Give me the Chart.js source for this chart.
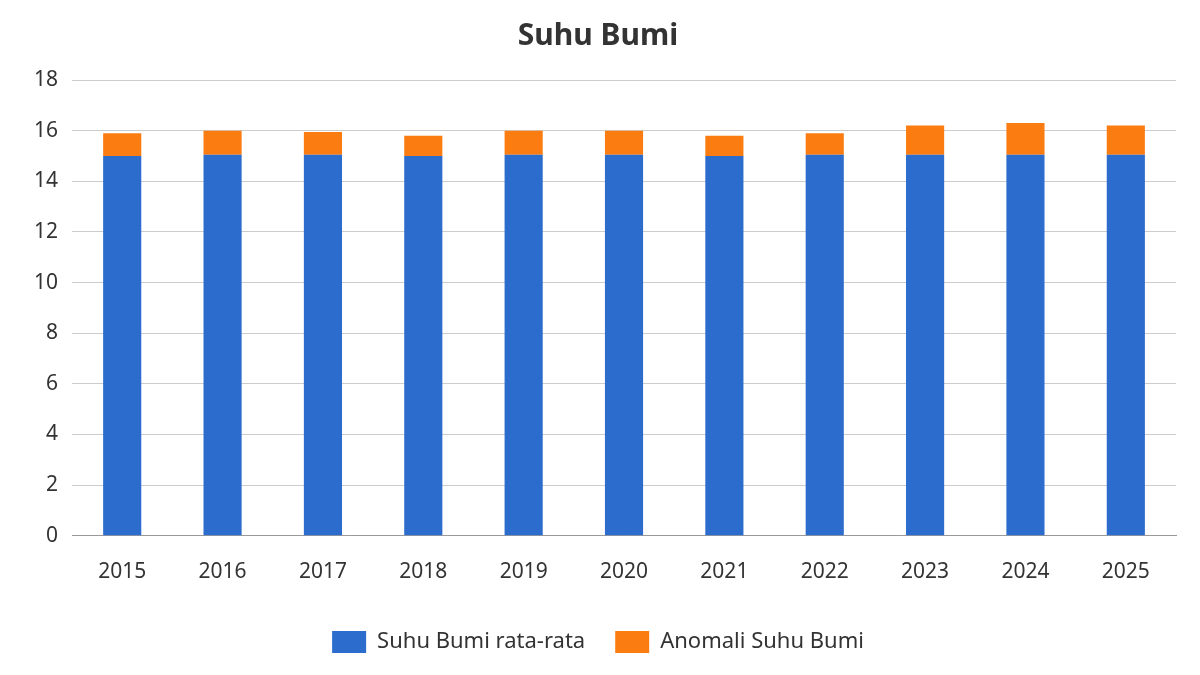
<!DOCTYPE html>
<html><head><meta charset="utf-8">
<script src="https://cdn.jsdelivr.net/npm/chart.js@4"></script>
<style>html,body{margin:0;background:#fff}#w{width:1200px;height:675px}</style>
</head><body><div id="w"><canvas id="c"></canvas></div>
<script>
const categories=['2015','2016','2017','2018','2019','2020','2021','2022','2023','2024','2025'];
const avgTemp=[15.0,15.05,15.05,15.0,15.05,15.05,15.0,15.05,15.05,15.05,15.05];
const anomaly=[0.9,0.95,0.9,0.8,0.95,0.95,0.8,0.85,1.15,1.25,1.15];
Chart.defaults.font.family='"Noto Sans", "Open Sans", sans-serif';
Chart.defaults.color='#333';
new Chart(document.getElementById('c'),{type:'bar',
data:{labels:categories,datasets:[
{label:'Suhu Bumi rata-rata',data:avgTemp,backgroundColor:'#2b6ccc',barPercentage:0.38,categoryPercentage:1},
{label:'Anomali Suhu Bumi',data:anomaly,backgroundColor:'#fb7d12',barPercentage:0.38,categoryPercentage:1}]},
options:{responsive:true,maintainAspectRatio:false,animation:false,
layout:{padding:{left:20,right:24,top:14,bottom:12}},
plugins:{title:{display:true,text:'Suhu Bumi',font:{size:30,weight:'bold'},color:'#333',padding:{top:4,bottom:26}},
legend:{position:'bottom',labels:{font:{size:22},boxWidth:34,boxHeight:22,padding:30},padding:10},tooltip:{enabled:false}},
scales:{x:{stacked:true,grid:{display:false},border:{color:'#999'},ticks:{font:{size:21},padding:16}},
y:{stacked:true,min:0,max:18,ticks:{stepSize:2,font:{size:21},padding:14},grid:{color:'#ccc',drawTicks:false},border:{display:false}}}}});
</script></body></html>
